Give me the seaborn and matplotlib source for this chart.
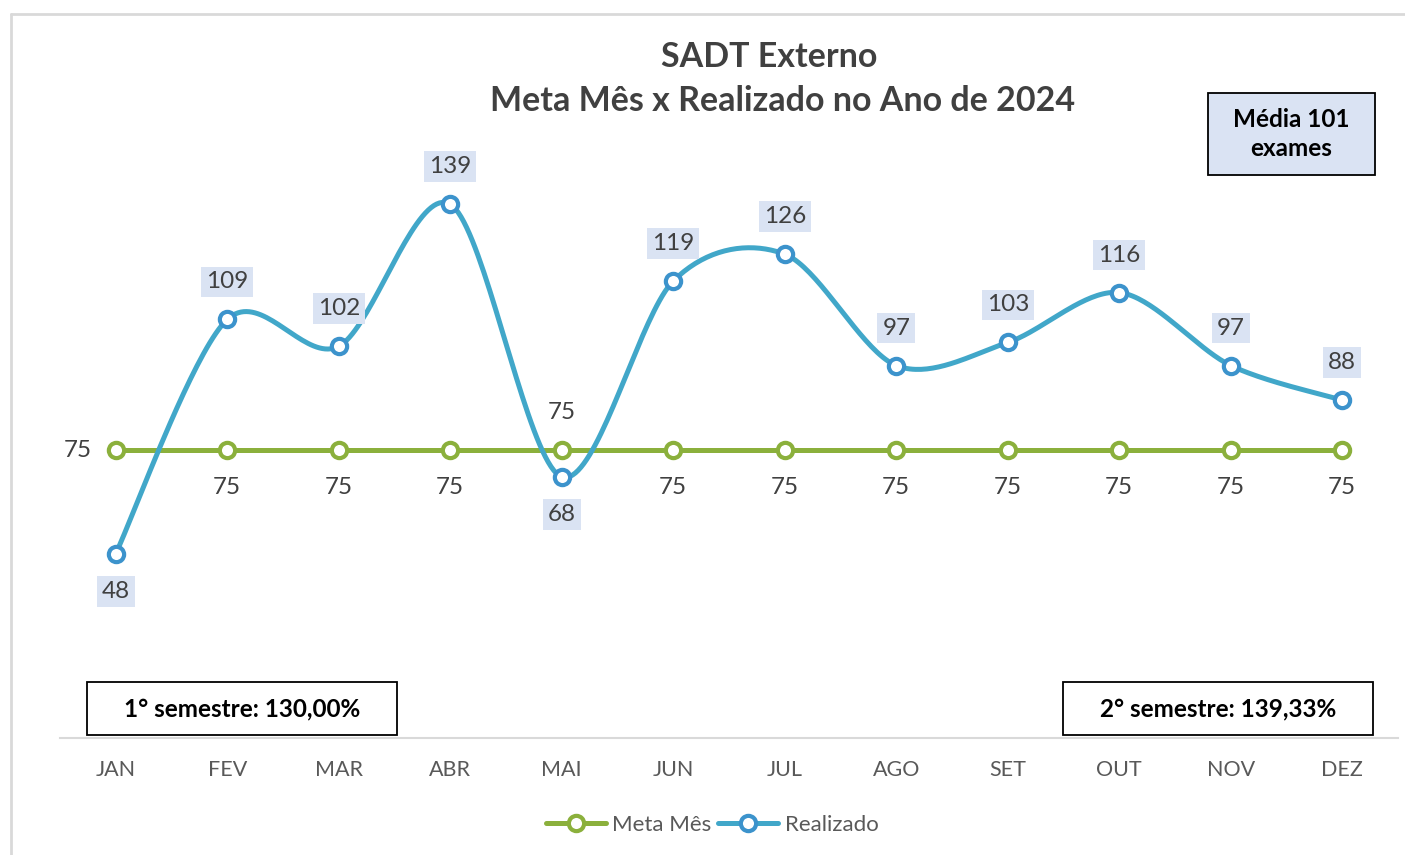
import numpy as np
import pandas as pd
import matplotlib
matplotlib.use("Agg")
import matplotlib.pyplot as plt
from matplotlib.patches import Rectangle
from matplotlib.lines import Line2D
import seaborn as sns

# ---- data ----
months = ["JAN", "FEV", "MAR", "ABR", "MAI", "JUN", "JUL", "AGO", "SET", "OUT", "NOV", "DEZ"]
meta = [75, 75, 75, 75, 75, 75, 75, 75, 75, 75, 75, 75]
realizado = [48, 109, 102, 139, 68, 119, 126, 97, 103, 116, 97, 88]
title_line1 = "SADT Externo"
title_line2 = "Meta Mês x Realizado no Ano de 2024"
media_text = "Média 101\nexames"
sem1_text = "1° semestre: 130,00%"
sem2_text = "2° semestre: 139,33%"

sns.set_theme(style="white")
plt.rcParams['font.family'] = ['Lato', 'DejaVu Sans']

W, H = 1405, 855
fig = plt.figure(figsize=(W / 100, H / 100), dpi=100)

def fx(px):
    return px / W

def fy(py):
    return 1 - py / H

ax_left, ax_right = 60, 1398
ax_top, ax_bottom = 738 - 160 * 3.84, 738
ax = fig.add_axes([fx(ax_left), fy(ax_bottom), fx(ax_right - ax_left), (ax_bottom - ax_top) / H])

GREEN = "#8BB03C"
BLUE = "#41A7C9"
BLUE_EDGE = "#3C93CC"
TXT = "#404040"

x = np.arange(len(months))
df = pd.DataFrame({"x": x, "mes": months, "meta": meta, "realizado": realizado})

# smooth curve (Bezier through the points, like Excel's smoothed line)
def smooth(xs, ys, n=40, k=1 / 6.5):
    pts = np.column_stack([xs, ys]).astype(float)
    out = []
    for i in range(len(pts) - 1):
        p0 = pts[i - 1] if i > 0 else pts[i]
        p1 = pts[i]
        p2 = pts[i + 1]
        p3 = pts[i + 2] if i + 2 < len(pts) else pts[i + 1]
        c1 = p1 + (p2 - p0) * k
        c2 = p2 - (p3 - p1) * k
        t = np.linspace(0, 1, n)[:, None]
        seg = (1 - t) ** 3 * p1 + 3 * (1 - t) ** 2 * t * c1 + 3 * (1 - t) * t ** 2 * c2 + t ** 3 * p2
        out.append(seg if i == 0 else seg[1:])
    return np.vstack(out)

curve = smooth(df["x"].values, df["realizado"].values)
curve_df = pd.DataFrame({"x": curve[:, 0], "y": curve[:, 1]})

sns.lineplot(data=df, x="x", y="meta", ax=ax, color=GREEN, lw=3.6, marker="o",
             markersize=11, markerfacecolor="white", markeredgecolor=GREEN,
             markeredgewidth=3, zorder=3, sort=False)
sns.lineplot(data=curve_df, x="x", y="y", ax=ax, color=BLUE, lw=3.6, zorder=4,
             sort=False, estimator=None)
ax.plot(df["x"], df["realizado"], ls="none", marker="o", markersize=11,
        markerfacecolor="white", markeredgecolor=BLUE_EDGE, markeredgewidth=3, zorder=5)

ax.set_xlim(-0.5, len(months) - 0.5)
ax.set_ylim(0, 160)
ax.set_xticks(x)
ax.set_xticklabels(months, fontsize=15.5, color="#595959")
ax.set_yticks([])
ax.set_xlabel("")
ax.set_ylabel("")
ax.tick_params(axis="x", length=0, pad=16)
for s in ["top", "right", "left"]:
    ax.spines[s].set_visible(False)
ax.spines["bottom"].set_color("#D9D9D9")
ax.spines["bottom"].set_linewidth(1.5)
ax.set_facecolor("none")

OFF = 27
for i, (m, r) in enumerate(zip(meta, realizado)):
    below = r < m
    ax.annotate(str(r), (i, r), xytext=(0, -OFF if below else OFF), textcoords="offset points",
                ha="center", va="center", fontsize=17.5, color=TXT, zorder=6,
                bbox=dict(boxstyle="square,pad=0.2", fc="#DAE3F3", ec="none"))
    if i == 0:
        off = (-OFF, 0)
    elif below:
        off = (0, OFF)
    else:
        off = (0, -OFF)
    ax.annotate(str(m), (i, m), xytext=off, textcoords="offset points",
                ha="center", va="center", fontsize=17.5, color=TXT, zorder=6)

# titles
fig.text(fx(769), fy(57), title_line1, ha="center", va="center", fontsize=24.5,
         fontweight="bold", color=TXT)
fig.text(fx(783), fy(101), title_line2, ha="center", va="center", fontsize=24.5,
         fontweight="bold", color=TXT)

# boxes
def box(x0, y0, x1, y1, fc, text, fs):
    fig.patches.append(Rectangle((fx(x0), fy(y1)), fx(x1 - x0), (y1 - y0) / H,
                                 transform=fig.transFigure, fc=fc, ec="black", lw=1.3, zorder=10))
    fig.text(fx((x0 + x1) / 2), fy((y0 + y1) / 2), text, ha="center", va="center",
             fontsize=fs, fontweight="bold", color="black", zorder=11, linespacing=1.3)

box(1208, 93, 1375, 175, "#DAE3F3", media_text, 17.5)
box(87, 682, 397, 735, "white", sem1_text, 17.5)
box(1063, 682, 1373, 735, "white", sem2_text, 17.5)

# outer frame
fig.add_artist(Line2D([fx(11), 1], [fy(14), fy(14)], transform=fig.transFigure,
                      color="#D9D9D9", lw=2))
fig.add_artist(Line2D([fx(11), fx(11)], [fy(14), 0], transform=fig.transFigure,
                      color="#D9D9D9", lw=2))

# legend
handles = [
    Line2D([], [], color=GREEN, lw=3.6, marker="o", markersize=11, markerfacecolor="white",
           markeredgecolor=GREEN, markeredgewidth=3),
    Line2D([], [], color=BLUE, lw=3.6, marker="o", markersize=11, markerfacecolor="white",
           markeredgecolor=BLUE_EDGE, markeredgewidth=3),
]
leg = fig.legend(handles, ["Meta Mês", "Realizado"], loc="center", bbox_to_anchor=(fx(712), fy(825)),
                 ncol=2, frameon=False, fontsize=16, handlelength=2.7, columnspacing=0.3,
                 handletextpad=0.3, numpoints=1)
for t in leg.get_texts():
    t.set_color("#595959")

fig.savefig("out.png", dpi=100, facecolor="white")
